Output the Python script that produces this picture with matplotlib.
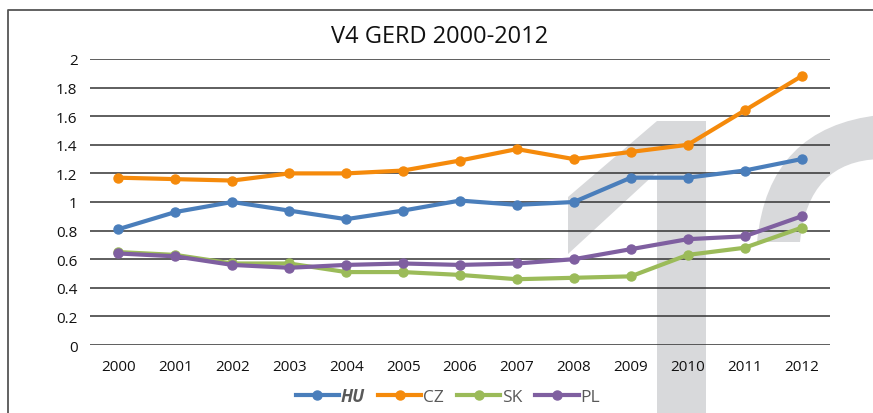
import matplotlib
matplotlib.use("Agg")
import matplotlib.pyplot as plt
from matplotlib.patches import Polygon, PathPatch
from matplotlib.path import Path
from matplotlib.lines import Line2D

plt.rcParams['font.family'] = ['Open Sans', 'DejaVu Sans']

years = ['2000', '2001', '2002', '2003', '2004', '2005', '2006',
         '2007', '2008', '2009', '2010', '2011', '2012']
hu = [0.81, 0.93, 1.00, 0.94, 0.88, 0.94, 1.01, 0.98, 1.00, 1.17, 1.17, 1.22, 1.30]
cz = [1.17, 1.16, 1.15, 1.20, 1.20, 1.22, 1.29, 1.37, 1.30, 1.35, 1.40, 1.64, 1.88]
sk = [0.65, 0.63, 0.57, 0.57, 0.51, 0.51, 0.49, 0.46, 0.47, 0.48, 0.63, 0.68, 0.82]
pl = [0.64, 0.62, 0.56, 0.54, 0.56, 0.57, 0.56, 0.57, 0.60, 0.67, 0.74, 0.76, 0.90]

series = [('HU', hu, '#4a7ebb'), ('CZ', cz, '#f58a0b'),
          ('SK', sk, '#9bbb59'), ('PL', pl, '#7f5fa0')]

W, H = 873, 414
fig = plt.figure(figsize=(W / 100, H / 100), dpi=100)

# background layer in pixel coords: frame + grey watermark
bg = fig.add_axes([0, 0, 1, 1], zorder=0)
bg.set_xlim(0, W)
bg.set_ylim(H, 0)
bg.axis('off')
grey = '#d8d9db'
bg.add_patch(Polygon([(568, 198), (657, 122), (706, 122), (706, H + 5),
                      (657, H + 5), (657, 173), (568, 255)],
                     closed=True, fc=grey, ec='none'))
verts = [(757, 243), (768, 128), (880, 116), (880, 160),
         (808, 162), (800, 243), (757, 243)]
codes = [Path.MOVETO, Path.CURVE3, Path.CURVE3, Path.LINETO,
         Path.CURVE3, Path.CURVE3, Path.CLOSEPOLY]
bg.add_patch(PathPatch(Path(verts, codes), fc=grey, ec='none'))
bg.plot([7.5, 7.5, W + 2], [H + 2, 10.5, 10.5], color='#555555', lw=1.3)

# main chart
x0, x1 = 90, 830
y_top, y_bot = 60, 346
ax = fig.add_axes([x0 / W, 1 - y_bot / H, (x1 - x0) / W, (y_bot - y_top) / H], zorder=1)
ax.patch.set_alpha(0)
xs = list(range(len(years)))
for name, vals, col in series:
    ax.plot(xs, vals, color=col, lw=3, marker='o', ms=6.5, zorder=3)

ax.set_ylim(0, 2)
ax.set_xlim(-0.5, len(years) - 0.5)
ax.set_yticks([0, 0.2, 0.4, 0.6, 0.8, 1, 1.2, 1.4, 1.6, 1.8, 2])
ax.set_yticklabels(['0', '0.2', '0.4', '0.6', '0.8', '1', '1.2', '1.4', '1.6', '1.8', '2'])
ax.set_xticks(xs)
ax.set_xticklabels(years)
ax.tick_params(length=0, labelsize=11, colors='#111111', pad=10)
ax.tick_params(axis='y', pad=9)
ax.yaxis.grid(True, color='#333333', lw=1.1)
ax.set_axisbelow(True)
for s in ax.spines.values():
    s.set_visible(False)

fig.text(440 / W, 1 - 37 / H, 'V4 GERD 2000-2012', ha='center', va='center',
         fontsize=17, color='#111111')

handles = [Line2D([], [], color=c, lw=3, marker='o', ms=6.5) for _, _, c in series]
leg = fig.legend(handles, [n for n, _, _ in series], loc='center',
                 bbox_to_anchor=(448 / W, 1 - 397 / H), ncol=4, frameon=False,
                 fontsize=12.5, handlelength=2.5, handletextpad=0.1,
                 columnspacing=0.75)
for i, t in enumerate(leg.get_texts()):
    t.set_color('#595959')
    if i == 0:
        t.set_fontweight('bold')
        t.set_fontstyle('italic')

fig.savefig('out.png', dpi=100)
